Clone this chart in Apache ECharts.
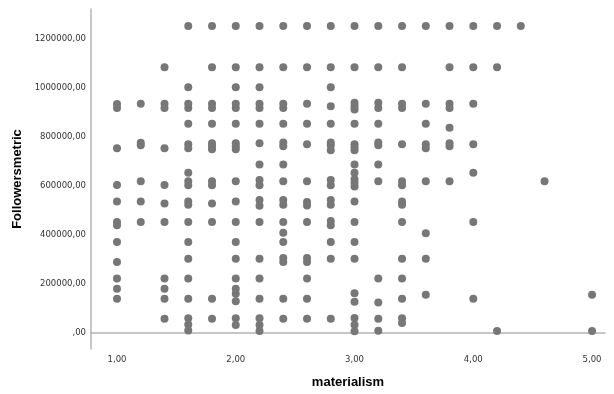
<!DOCTYPE html>
<html>
<head>
<meta charset="utf-8">
<script src="https://cdn.jsdelivr.net/npm/echarts@6/dist/echarts.min.js"></script>
<style>
  html, body { margin: 0; padding: 0; background: #fff; }
  #chart { width: 614px; height: 394px; }
</style>
</head>
<body>
<div id="chart"></div>
<script>
// materialism levels (x) and the Followersmetric values read at each level
const materialismLevels = [1.0, 1.2, 1.4, 1.6, 1.8, 2.0, 2.2, 2.4, 2.6, 2.8, 3.0, 3.2, 3.4, 3.6, 3.8, 4.0, 4.2, 4.4, 4.6, 5.0];
const followersAtLevel = [
  [935000, 918000, 754000, 604000, 537000, 453000, 440000, 371000, 290000, 222000, 181000, 140000],
  [936000, 777000, 766000, 619000, 537000, 453000],
  [1085000, 936000, 918000, 754000, 604000, 529000, 453000, 222000, 181000, 140000, 58000],
  [1253000, 1003000, 936000, 918000, 854000, 770000, 754000, 654000, 619000, 603000, 537000, 523000, 453000, 371000, 303000, 222000, 140000, 60000, 35000, 10000],
  [1253000, 1085000, 936000, 918000, 854000, 774000, 762000, 750000, 619000, 603000, 529000, 453000, 140000, 58000],
  [1253000, 1085000, 1003000, 936000, 918000, 854000, 774000, 762000, 750000, 619000, 537000, 453000, 371000, 303000, 222000, 181000, 160000, 130000, 60000, 33000],
  [1253000, 1085000, 1003000, 936000, 918000, 854000, 774000, 688000, 624000, 603000, 543000, 519000, 453000, 303000, 222000, 140000, 60000, 33000, 8000],
  [1253000, 1085000, 936000, 918000, 854000, 778000, 762000, 688000, 619000, 543000, 523000, 453000, 409000, 371000, 306000, 290000, 140000, 58000],
  [1253000, 1085000, 936000, 854000, 770000, 619000, 535000, 520000, 453000, 306000, 290000, 222000, 140000, 58000],
  [1253000, 1085000, 1003000, 925000, 854000, 778000, 766000, 746000, 624000, 603000, 543000, 523000, 457000, 440000, 371000, 303000, 58000],
  [1253000, 1085000, 940000, 925000, 912000, 854000, 770000, 758000, 746000, 688000, 654000, 628000, 612000, 598000, 537000, 453000, 371000, 303000, 162000, 128000, 61000, 34000, 7000],
  [1253000, 1085000, 940000, 918000, 854000, 778000, 766000, 688000, 619000, 222000, 124000, 58000, 9000],
  [1253000, 1085000, 936000, 918000, 770000, 619000, 603000, 537000, 523000, 453000, 303000, 222000, 140000, 60000, 41000],
  [1253000, 936000, 854000, 770000, 754000, 619000, 407000, 303000, 156000],
  [1253000, 1085000, 936000, 918000, 838000, 774000, 762000, 619000],
  [1253000, 1085000, 936000, 770000, 654000, 453000, 140000],
  [1253000, 1085000, 8000],
  [1253000],
  [619000],
  [156000, 8000]
];
const xTickValues = [1, 2, 3, 4, 5];
const yTickValues = [0, 200000, 400000, 600000, 800000, 1000000, 1200000];

const points = [];
materialismLevels.forEach((m, i) => {
  followersAtLevel[i].forEach(v => points.push([m, v]));
});

// SPSS style numbers: 1200000,00 and ,00
const spssFormat = v => {
  const s = Number(v).toFixed(2).replace('.', ',');
  return s.indexOf('0,') === 0 ? s.slice(1) : s;
};

const chart = echarts.init(document.getElementById('chart'));
chart.setOption({
  animation: false,
  grid: { left: 91, right: 9, top: 9, bottom: 45, containLabel: false },
  xAxis: {
    type: 'value',
    min: 0.781,
    max: 5.109,
    name: 'materialism',
    nameLocation: 'middle',
    nameGap: 27,
    nameTextStyle: { fontFamily: 'Liberation Sans', fontWeight: 'bold', fontSize: 13, color: '#000' },
    axisLine: { show: true, lineStyle: { color: '#b4b4b4', width: 1.5 } },
    axisTick: { show: false },
    splitLine: { show: false },
    axisLabel: {
      customValues: xTickValues,
      formatter: spssFormat,
      margin: 6,
      fontFamily: 'DejaVu Sans',
      fontSize: 8.5,
      color: '#333'
    }
  },
  yAxis: {
    type: 'value',
    min: -65300,
    max: 1322400,
    name: 'Followersmetric',
    nameLocation: 'middle',
    nameRotate: 90,
    nameGap: 65,
    nameTextStyle: { fontFamily: 'Liberation Sans', fontWeight: 'bold', fontSize: 13, color: '#000' },
    axisLine: { show: true, lineStyle: { color: '#b4b4b4', width: 1.5 } },
    axisTick: { show: false },
    splitLine: { show: false },
    axisLabel: {
      customValues: yTickValues,
      formatter: spssFormat,
      margin: 5,
      fontFamily: 'DejaVu Sans',
      fontSize: 8.5,
      color: '#333'
    }
  },
  series: [{
    type: 'scatter',
    data: points,
    symbolSize: 8,
    itemStyle: { color: '#777777', opacity: 1 }
  }]
});
</script>
</body>
</html>
